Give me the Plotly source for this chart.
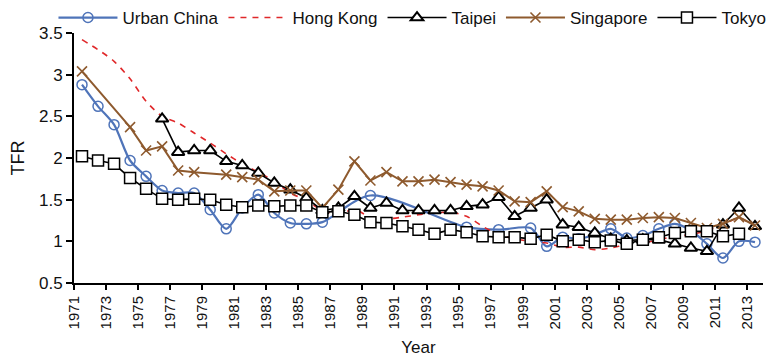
import plotly.graph_objects as go

# ---- data ----
china_years = [1971, 1972, 1973, 1974, 1975, 1976, 1977, 1978, 1979, 1980, 1981, 1982, 1983, 1984,
               1985, 1986, 1989, 1995, 1997, 1999, 2000, 2001, 2002, 2003, 2004, 2005, 2006, 2007,
               2008, 2009, 2010, 2011, 2012, 2013]
china_tfr = [2.88, 2.62, 2.40, 1.97, 1.78, 1.61, 1.58, 1.58, 1.38, 1.15, 1.40, 1.56, 1.34, 1.22,
             1.21, 1.23, 1.55, 1.17, 1.14, 1.16, 0.94, 1.05, 1.03, 1.08, 1.15, 1.04, 1.07, 1.15,
             1.21, 1.13, 0.97, 0.80, 1.00, 0.99]

hk_years = list(range(1971, 2014))
hk_tfr = [3.42, 3.30, 3.16, 2.95, 2.68, 2.50, 2.42, 2.30, 2.18, 2.05, 1.93, 1.83, 1.72, 1.58,
          1.49, 1.37, 1.33, 1.38, 1.29, 1.27, 1.29, 1.32, 1.34, 1.35, 1.30, 1.18, 1.08, 1.03,
          1.00, 0.98, 0.93, 0.93, 0.90, 0.92, 0.96, 0.98, 1.02, 1.06, 1.08, 1.13, 1.20, 1.28, 1.17]

taipei_years = list(range(1976, 2014))
taipei_tfr = [2.47, 2.07, 2.09, 2.09, 1.96, 1.91, 1.82, 1.70, 1.62, 1.52, 1.37, 1.40, 1.54, 1.40,
              1.46, 1.37, 1.37, 1.37, 1.37, 1.42, 1.44, 1.53, 1.30, 1.40, 1.50, 1.20, 1.17, 1.10,
              1.03, 1.01, 1.02, 1.02, 0.97, 0.92, 0.88, 1.20, 1.40, 1.18]

singapore_years = [1971, 1974, 1975, 1976, 1977, 1978, 1980, 1981, 1982, 1983, 1984, 1985, 1986,
                   1987, 1988, 1989, 1990, 1991, 1992, 1993, 1994, 1995, 1996, 1997, 1998, 1999,
                   2000, 2001, 2002, 2003, 2004, 2005, 2006, 2007, 2008, 2009, 2010, 2011, 2012, 2013]
singapore_tfr = [3.04, 2.37, 2.09, 2.14, 1.85, 1.83, 1.80, 1.77, 1.74, 1.60, 1.61, 1.61, 1.40,
                 1.62, 1.96, 1.73, 1.83, 1.72, 1.72, 1.74, 1.71, 1.68, 1.66, 1.61, 1.48, 1.47,
                 1.60, 1.41, 1.36, 1.27, 1.26, 1.26, 1.28, 1.29, 1.28, 1.22, 1.16, 1.21, 1.29, 1.19]

tokyo_years = list(range(1971, 2013))
tokyo_tfr = [2.02, 1.97, 1.93, 1.76, 1.63, 1.51, 1.50, 1.51, 1.50, 1.44, 1.41, 1.43, 1.42, 1.43,
             1.43, 1.35, 1.36, 1.32, 1.23, 1.22, 1.18, 1.14, 1.09, 1.14, 1.11, 1.06, 1.05, 1.05,
             1.03, 1.08, 1.00, 1.02, 0.99, 1.01, 0.97, 1.02, 1.05, 1.10, 1.12, 1.12, 1.06, 1.09]

tick_years = list(range(1971, 2014, 2))

# points sit in the middle of each year slot
def mid(years):
    return [y + 0.5 for y in years]

BLUE = "#4F74B9"
RED = "#E0282A"
BROWN = "#8E5A2E"
BLACK = "#000000"

fig = go.Figure()
fig.add_trace(go.Scatter(
    x=mid(china_years), y=china_tfr, name="Urban China", mode="lines+markers",
    line=dict(color=BLUE, width=2.2, shape="spline", smoothing=0.8),
    marker=dict(symbol="circle", size=10, color="rgba(255,255,255,0)", line=dict(color=BLUE, width=1.5))))
fig.add_trace(go.Scatter(
    x=mid(hk_years), y=hk_tfr, name="Hong Kong", mode="lines",
    line=dict(color=RED, width=1.6, dash="6px,6px", shape="spline", smoothing=0.8)))
fig.add_trace(go.Scatter(
    x=mid(taipei_years), y=taipei_tfr, name="Taipei", mode="lines+markers",
    line=dict(color=BLACK, width=1.6),
    marker=dict(symbol="triangle-up", size=11, color="white", line=dict(color=BLACK, width=2))))
fig.add_trace(go.Scatter(
    x=mid(singapore_years), y=singapore_tfr, name="Singapore", mode="lines+markers",
    line=dict(color=BROWN, width=2),
    marker=dict(symbol="x-thin", size=10, color=BROWN, line=dict(color=BROWN, width=1.6))))
fig.add_trace(go.Scatter(
    x=mid(tokyo_years), y=tokyo_tfr, name="Tokyo", mode="lines+markers",
    line=dict(color=BLACK, width=1.6),
    marker=dict(symbol="square", size=11, color="white", line=dict(color=BLACK, width=1.5))))

FONT = "Liberation Sans, Arial, sans-serif"
# the page body adds an 8px offset, so the figure is 8px smaller than the window
fig.update_layout(
    width=766, height=351,
    margin=dict(l=66, r=11, t=25, b=76, autoexpand=False),
    paper_bgcolor="white", plot_bgcolor="white",
    font=dict(family=FONT, size=15, color="#111"),
    showlegend=True,
    legend=dict(orientation="h", x=-0.0298, xanchor="left", y=1.06, yanchor="middle",
                font=dict(size=17), itemwidth=59, bgcolor="rgba(0,0,0,0)",
                tracegroupgap=0),
    xaxis=dict(range=[1971, 2014], tickvals=tick_years, ticktext=[str(t) for t in tick_years],
               tickangle=-90, ticks="outside", ticklen=5, tickwidth=2, tickcolor="black",
               showline=True, linecolor="black", linewidth=2, showgrid=False, zeroline=False,
               tickfont=dict(size=15),
               title=dict(text="Year", font=dict(size=17), standoff=13)),
    yaxis=dict(range=[0.5, 3.5], dtick=0.5, tick0=0.5, ticks="outside", ticklen=6, tickwidth=2,
               tickcolor="black", showline=True, linecolor="black", linewidth=2, showgrid=False,
               zeroline=False, tickfont=dict(size=17),
               title=dict(text="TFR", font=dict(size=18), standoff=10)),
)

fig.write_html("out.html")
